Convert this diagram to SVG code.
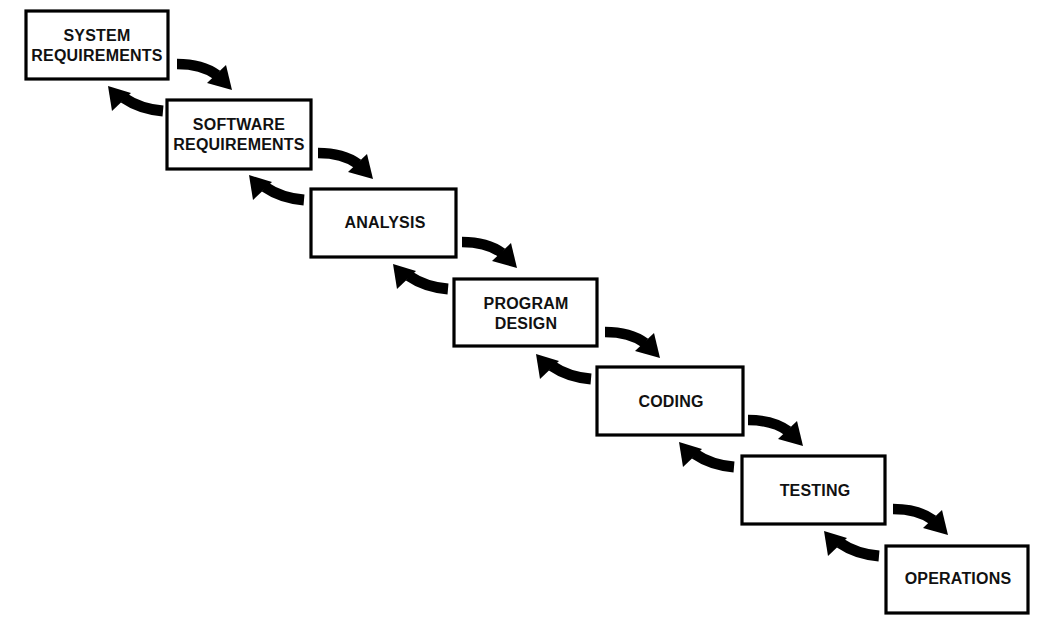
<svg xmlns="http://www.w3.org/2000/svg" width="1064" height="628" viewBox="0 0 1064 628">
<defs>
<style>
.box{fill:#fff;stroke:#000;stroke-width:3.2}
.lbl{font-family:"Liberation Sans",Arial,sans-serif;font-weight:bold;font-size:16px;fill:#111;text-anchor:middle;letter-spacing:0.2px}
.body{fill:none;stroke:#000;stroke-linecap:butt}
</style>
<g id="fwd">
<path class="body" d="M151,53 Q176,53 191,64" stroke-width="10.5"/>
<polygon points="181,72 200,54 206,79" fill="#000"/>
</g>
<g id="back">
<path class="body" d="M137,100 Q114,98 98,87" stroke-width="11"/>
<polygon points="86,100 105,82 82,75" fill="#000"/>
</g>
</defs>
<rect width="1064" height="628" fill="#fff"/>
<g id="connectors">
<use href="#fwd" transform="translate(26,11)"/>
<use href="#back" transform="translate(26,11)"/>
<use href="#fwd" transform="translate(167,100)"/>
<use href="#back" transform="translate(167,100)"/>
<use href="#fwd" transform="translate(311,189)"/>
<use href="#back" transform="translate(311,189)"/>
<use href="#fwd" transform="translate(454,279)"/>
<use href="#back" transform="translate(454,279)"/>
<use href="#fwd" transform="translate(597,367)"/>
<use href="#back" transform="translate(597,367)"/>
<use href="#fwd" transform="translate(742,456)"/>
<use href="#back" transform="translate(742,456)"/>
</g>
<g id="system-requirements">
<rect class="box" x="26" y="11" width="142" height="68"/>
<text class="lbl" x="97" y="41">SYSTEM</text>
<text class="lbl" x="97" y="61">REQUIREMENTS</text>
</g>
<g id="software-requirements">
<rect class="box" x="167" y="100" width="144" height="69"/>
<text class="lbl" x="239" y="130">SOFTWARE</text>
<text class="lbl" x="239" y="150">REQUIREMENTS</text>
</g>
<g id="analysis">
<rect class="box" x="311" y="189" width="145" height="68"/>
<text class="lbl" x="385" y="228">ANALYSIS</text>
</g>
<g id="program-design">
<rect class="box" x="454" y="279" width="143" height="67"/>
<text class="lbl" x="526" y="309">PROGRAM</text>
<text class="lbl" x="526" y="329">DESIGN</text>
</g>
<g id="coding">
<rect class="box" x="597" y="367" width="146" height="68"/>
<text class="lbl" x="671" y="407">CODING</text>
</g>
<g id="testing">
<rect class="box" x="742" y="456" width="143" height="68"/>
<text class="lbl" x="815" y="496">TESTING</text>
</g>
<g id="operations">
<rect class="box" x="886" y="546" width="142" height="67"/>
<text class="lbl" x="958" y="584">OPERATIONS</text>
</g>
</svg>
